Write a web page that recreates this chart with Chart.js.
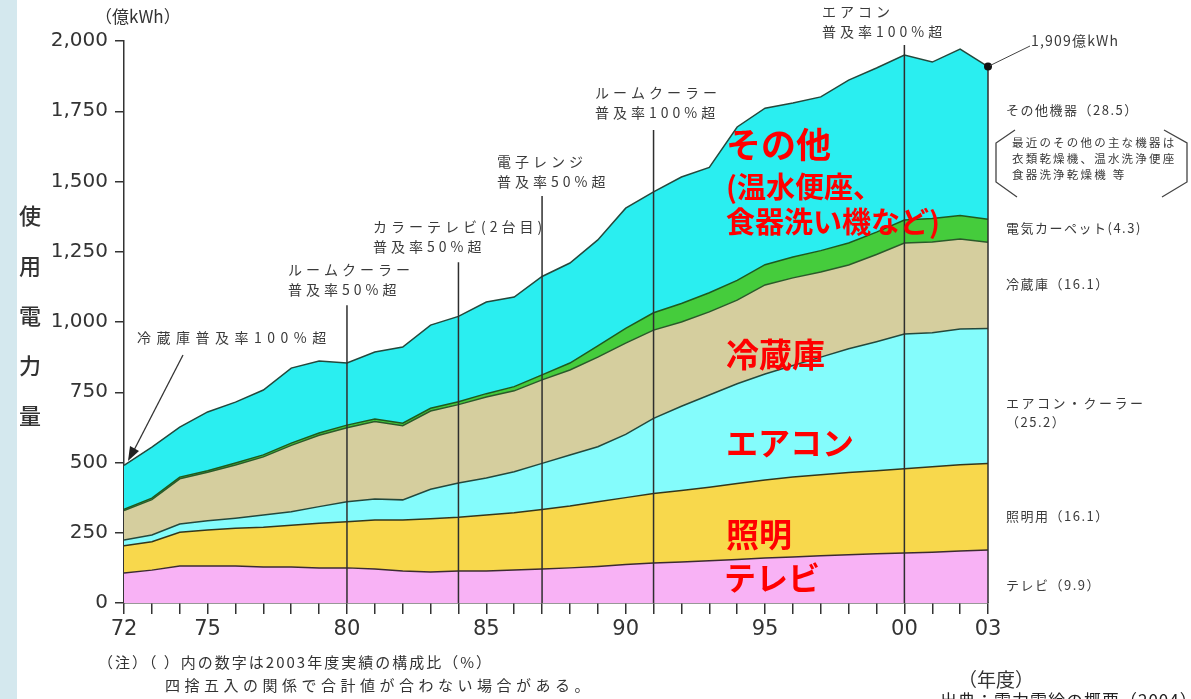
<!DOCTYPE html>
<html lang="ja">
<head>
    <meta charset="UTF-8">
    <title>家庭用電力使用量の推移</title>
    <script src="https://cdn.jsdelivr.net/npm/chart.js"></script>
    <style>
        html, body {
            margin: 0;
            padding: 0;
        }
        body {
            background: linear-gradient(to right, #d4e8ee 0, #d4e8ee 17px, #ffffff 17px);
        }
        .chart-container {
            position: relative;
            width: 1191px;
            height: 699px;
        }
    </style>
</head>
<body>
    <div class="chart-container">
        <canvas id="usageChart"></canvas>
    </div>

    <script>
        // 年度別の機器別使用電力量（億kWh）
        const years = [1972, 1973, 1974, 1975, 1976, 1977, 1978, 1979, 1980, 1981, 1982, 1983, 1984, 1985, 1986, 1987,
                       1988, 1989, 1990, 1991, 1992, 1993, 1994, 1995, 1996, 1997, 1998, 1999, 2000, 2001, 2002, 2003];
        const tv       = [107, 117, 132, 132, 132, 128, 128, 125, 125, 121, 114, 110, 114, 114, 117, 121,
                          125, 130, 137, 142, 146, 150, 155, 160, 164, 168, 172, 175, 178, 181, 185, 189];
        const lighting = [97, 101, 120, 128, 134, 142, 149, 159, 164, 174, 181, 190, 191, 199, 204, 212,
                          220, 230, 238, 248, 254, 262, 270, 278, 284, 288, 292, 296, 300, 304, 307, 307];
        const aircon   = [20, 24, 29, 33, 36, 43, 48, 59, 71, 75, 72, 105, 122, 132, 146, 164,
                          182, 196, 225, 267, 300, 328, 355, 377, 397, 419, 441, 459, 479, 477, 483, 481];
        const fridge   = [105, 126, 161, 172, 189, 207, 236, 254, 264, 276, 264, 278, 279, 288, 288, 297,
                          302, 319, 325, 314, 300, 296, 298, 317, 312, 303, 298, 310, 324, 323, 320, 307];
        const carpet   = [4, 5, 6, 6, 7, 7, 8, 8, 9, 9, 9, 10, 10, 12, 15, 18,
                          25, 40, 52, 62, 66, 68, 70, 72, 74, 76, 78, 80, 82, 83, 84, 82];
        const others   = [157, 182, 178, 209, 217, 231, 267, 256, 221, 238, 271, 296, 304, 326, 319, 350,
                          356, 377, 428, 430, 450, 446, 546, 557, 548, 547, 580, 584, 587, 557, 592, 543];

        const yTicks = [0, 250, 500, 750, 1000, 1250, 1500, 1750, 2000];
        const labelYears = [1972, 1975, 1980, 1985, 1990, 1995, 2000, 2003];

        // 2003年度の構成比（%）
        const shareLabels = ['その他機器（28.5）', '電気カーペット(4.3)', '冷蔵庫（16.1）', 'エアコン・クーラー', '照明用（16.1）', 'テレビ（9.9）'];

        // 普及率の節目
        const eventYears = [1980, 1984, 1987, 1991, 2000];
        const eventTops  = [1060, 1213, 1448, 1683, 1986];
        const eventText  = [
            ['ルームクーラー', '普及率50%超'],
            ['カラーテレビ(2台目)', '普及率50%超'],
            ['電子レンジ', '普及率50%超'],
            ['ルームクーラー', '普及率100%超'],
            ['エアコン', '普及率100%超']
        ];

        const JP = '"Noto Sans CJK JP", "Noto Sans", sans-serif';
        const NUM = '"DejaVu Sans", sans-serif';

        function series(label, values, color, line, fill) {
            return {
                label: label,
                data: years.map((y, i) => ({ x: y, y: values[i] })),
                backgroundColor: color,
                borderColor: line,
                borderWidth: 1.5,
                fill: fill,
                pointRadius: 0,
                tension: 0
            };
        }

        function text(ctx, str, x, y, font, color, spacing, align) {
            ctx.save();
            ctx.font = font;
            ctx.fillStyle = color;
            ctx.textAlign = align || 'left';
            ctx.textBaseline = 'middle';
            ctx.letterSpacing = (spacing || 0) + 'px';
            ctx.fillText(str, x, y);
            ctx.restore();
        }

        function line(ctx, pts, color, width) {
            ctx.save();
            ctx.strokeStyle = color;
            ctx.lineWidth = width;
            ctx.beginPath();
            ctx.moveTo(pts[0][0], pts[0][1]);
            for (let i = 1; i < pts.length; i++) ctx.lineTo(pts[i][0], pts[i][1]);
            ctx.stroke();
            ctx.restore();
        }

        // 節目の縦線・注記・右側の凡例など
        const decor = {
            id: 'decor',
            afterDatasetsDraw(chart) {
                const ctx = chart.ctx;
                const xs = chart.scales.x, ys = chart.scales.y;
                const base = ys.getPixelForValue(0);

                eventYears.forEach((yr, i) => {
                    const px = xs.getPixelForValue(yr);
                    line(ctx, [[px, ys.getPixelForValue(eventTops[i])], [px, base]], '#2e2e2e', 1.5);
                });

                // 右端の縦線と合計点
                const last = chart.getDatasetMeta(5).data[years.length - 1];
                line(ctx, [[last.x, last.y], [last.x, base]], '#2e2e2e', 1.5);
                ctx.save();
                ctx.fillStyle = '#111';
                ctx.beginPath();
                ctx.arc(last.x, last.y, 4, 0, Math.PI * 2);
                ctx.fill();
                ctx.restore();
                line(ctx, [[last.x + 2, last.y - 1], [1030, 46]], '#444', 1);
            },
            afterDraw(chart) {
                const ctx = chart.ctx;
                const gray = '#3a3a3a';

                // 節目の注記
                const pos = [[288, 270], [373, 227], [497, 162], [595, 93], [822, 12]];
                eventText.forEach((t, i) => {
                    text(ctx, t[0], pos[i][0], pos[i][1], '14px ' + JP, gray, 4);
                    text(ctx, t[1], pos[i][0], pos[i][1] + 20, '14px ' + JP, gray, 4);
                });

                // 冷蔵庫普及率100%超の矢印
                text(ctx, '冷蔵庫普及率100%超', 137, 338, '14px ' + JP, gray, 5.5);
                line(ctx, [[183, 355], [131, 456]], '#333', 1.3);
                ctx.save();
                ctx.fillStyle = '#222';
                ctx.beginPath();
                ctx.moveTo(128, 461);
                ctx.lineTo(130, 446);
                ctx.lineTo(139, 451);
                ctx.closePath();
                ctx.fill();
                ctx.restore();

                text(ctx, '1,909億kWh', 1031, 41, '14px ' + JP, gray, 1.2);

                // 右側の構成比
                const rf = '13px ' + JP;
                text(ctx, shareLabels[0], 1006, 110, rf, gray, 1.5);
                text(ctx, shareLabels[1], 1006, 228, rf, gray, 1.5);
                text(ctx, shareLabels[2], 1006, 284, rf, gray, 1.5);
                text(ctx, shareLabels[3], 1006, 403, rf, gray, 2.5);
                text(ctx, '（25.2）', 1006, 422, rf, gray, 1.5);
                text(ctx, shareLabels[4], 1006, 516, rf, gray, 1.5);
                text(ctx, shareLabels[5], 1006, 585, rf, gray, 1.5);

                const nf = '11.5px ' + JP;
                text(ctx, '最近のその他の主な機器は', 1012, 143, nf, gray, 2.2);
                text(ctx, '衣類乾燥機、温水洗浄便座', 1012, 159, nf, gray, 2.2);
                text(ctx, '食器洗浄乾燥機 等', 1012, 175, nf, gray, 2.2);
                line(ctx, [[1015, 130], [996, 143], [996, 182], [1017, 197]], '#444', 1.3);
                line(ctx, [[1164, 130], [1187, 143], [1187, 182], [1162, 197]], '#444', 1.3);

                // 赤字の説明
                const red = '#ff0000';
                text(ctx, 'その他', 726, 145, 'bold 35px ' + JP, red);
                text(ctx, '(温水便座、', 726, 187, 'bold 29px ' + JP, red);
                text(ctx, '食器洗い機など)', 726, 222, 'bold 29px ' + JP, red);
                text(ctx, '冷蔵庫', 726, 354, 'bold 33px ' + JP, red);
                text(ctx, 'エアコン', 726, 443, 'bold 32px ' + JP, red);
                text(ctx, '照明', 726, 534, 'bold 33px ' + JP, red);
                text(ctx, 'テレビ', 724, 578, 'bold 32px ' + JP, red);

                // 軸の単位と見出し
                text(ctx, '（億kWh）', 95, 17, '17px ' + JP, '#333');
                text(ctx, '（年度）', 996, 680, '19px ' + JP, '#333', 0, 'center');
                ['使', '用', '電', '力', '量'].forEach((c, i) => {
                    text(ctx, c, 30, 216 + i * 50, '500 22px ' + JP, '#333', 0, 'center');
                });

                text(ctx, '（注）（ ）内の数字は2003年度実績の構成比（%）', 98, 662, '15px ' + JP, '#333', 2);
                text(ctx, '四捨五入の関係で合計値が合わない場合がある。', 165, 685, '15px ' + JP, '#333', 4.5);
                text(ctx, '出典：電力需給の概要（2004）', 940, 701, '17px ' + JP, '#222', 1);
            }
        };

        new Chart(document.getElementById('usageChart'), {
            type: 'line',
            data: {
                datasets: [
                    series('テレビ', tv, '#f8b2f5', '#3b2b30', 'origin'),
                    series('照明用', lighting, '#f8d84c', '#33361c', '-1'),
                    series('エアコン・クーラー', aircon, '#84fcfc', '#24483c', '-1'),
                    series('冷蔵庫', fridge, '#d5ce9e', '#2a5a2a', '-1'),
                    series('電気カーペット', carpet, '#45cc3c', '#1e5a1e', '-1'),
                    series('その他機器', others, '#2aeef0', '#24483c', '-1')
                ]
            },
            options: {
                responsive: true,
                maintainAspectRatio: false,
                animation: false,
                layout: {
                    padding: { left: 0, top: 41, right: 203, bottom: 56 }
                },
                plugins: {
                    legend: { display: false },
                    tooltip: { enabled: false }
                },
                scales: {
                    x: {
                        type: 'linear',
                        min: years[0],
                        max: years[years.length - 1],
                        afterBuildTicks: s => { s.ticks = years.map(v => ({ value: v })); },
                        afterFit: s => { s.height = 40; },
                        ticks: {
                            autoSkip: false,
                            maxRotation: 0,
                            padding: 3,
                            color: '#333',
                            font: { family: NUM, size: 21 },
                            callback: v => labelYears.includes(v) ? String(v).slice(2) : ''
                        },
                        grid: { drawOnChartArea: false, tickLength: 11, tickColor: '#333', lineWidth: 1.5 },
                        border: { display: true, color: '#333', width: 1.5 }
                    },
                    y: {
                        stacked: true,
                        min: 0,
                        max: 2000,
                        afterBuildTicks: s => { s.ticks = yTicks.map(v => ({ value: v })); },
                        afterFit: s => { s.width = 124; },
                        ticks: {
                            padding: 7,
                            color: '#333',
                            font: { family: NUM, size: 20 },
                            callback: v => v.toLocaleString('en-US')
                        },
                        grid: { drawOnChartArea: false, tickLength: 9, tickColor: '#333', lineWidth: 1.5 },
                        border: { display: true, color: '#333', width: 1.5 }
                    }
                }
            },
            plugins: [decor]
        });
    </script>
</body>
</html>
